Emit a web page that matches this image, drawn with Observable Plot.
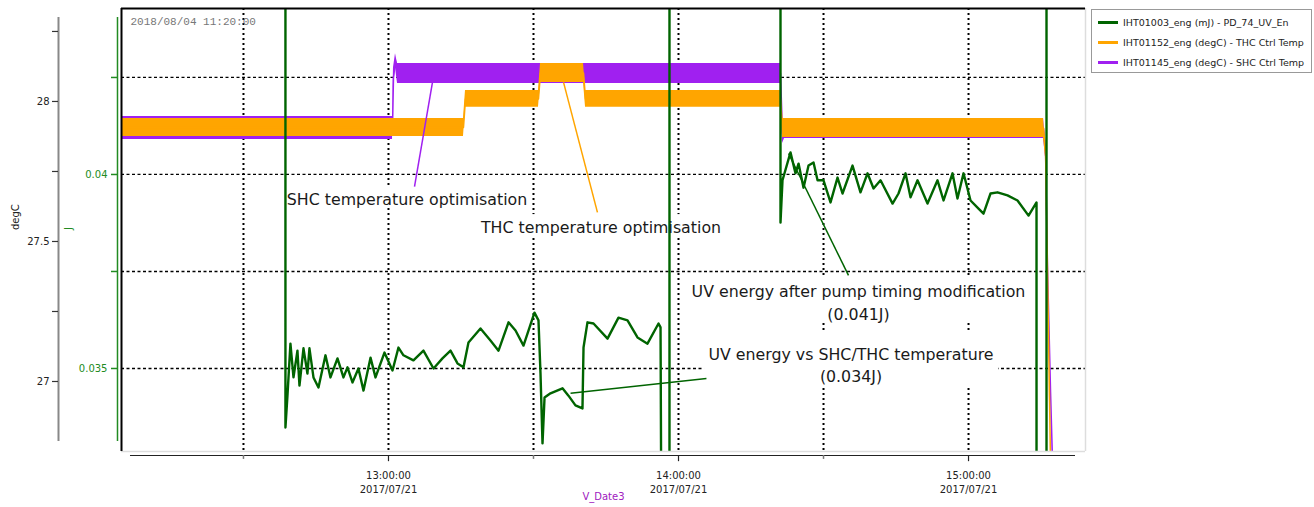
<!DOCTYPE html>
<html><head><meta charset="utf-8">
<script src="https://cdn.jsdelivr.net/npm/d3@7"></script>
<script src="https://cdn.jsdelivr.net/npm/@observablehq/plot@0.6"></script>
<style>
body{margin:0;background:#fff;font-family:"DejaVu Sans",sans-serif}
#wrap{position:relative;width:1314px;height:507px}
#legend{position:absolute;left:1091px;top:9px;width:221px;height:64px;border:1px solid #999;box-sizing:border-box;font-size:9.5px;color:#222;background:#fff}
.row{position:absolute;left:6px;display:flex;align-items:center;white-space:nowrap}
.sw{width:20px;height:3px;margin-right:5px}
</style></head><body><div id="wrap"><div id="legend"></div></div>
<script>
// ---------- data ----------
const seriesNames = ["IHT01003_eng (mJ) - PD_74_UV_En", "IHT01152_eng (degC) - THC Ctrl Temp", "IHT01145_eng (degC) - SHC Ctrl Temp"];
const seriesColors = ["#006400", "#FFA500", "#A020F0"];

// UV energy (J), left inner axis
const uvTime = ["12:38:41","12:38:41","12:39:06","12:39:43","12:40:21","12:41:10","12:41:35","12:42:25","12:43:14","12:43:39","12:44:29","12:45:31","12:46:58","12:48:00","12:49:27","12:50:41","12:51:31","12:52:33","12:53:47","12:54:50","12:56:17","12:57:19","12:59:10","13:00:50","13:02:04","13:03:06","13:05:10","13:07:14","13:09:19","13:11:10","13:12:50","13:14:17","13:15:31","13:16:33","13:19:02","13:21:06","13:22:46","13:24:50","13:26:17","13:27:56","13:30:12","13:31:02","13:31:27","13:31:52","13:32:17","13:33:31","13:36:00","13:37:14","13:38:41","13:40:08","13:40:21","13:41:10","13:42:25","13:45:19","13:47:35","13:49:27","13:51:31","13:53:35","13:55:52","13:56:17","13:56:29","13:58:08","13:58:08","14:21:06","14:21:06","14:21:31","14:23:10","14:24:12","14:24:50","14:25:52","14:26:54","14:27:56","14:28:46","14:30:00","14:31:27","14:32:54","14:33:56","14:36:00","14:37:39","14:39:06","14:40:21","14:41:48","14:44:17","14:45:31","14:46:58","14:48:00","14:49:27","14:51:31","14:53:35","14:54:50","14:56:41","14:57:43","14:58:58","15:00:25","15:02:04","15:03:06","15:04:33","15:06:00","15:08:04","15:10:08","15:12:25","15:14:04","15:14:04","15:16:08","15:16:08"];
const uvJ = [0.050,0.03348,0.03430,0.03564,0.03477,0.03546,0.03456,0.03552,0.03487,0.03552,0.03477,0.03451,0.03534,0.03477,0.03526,0.03477,0.03503,0.03464,0.03500,0.03443,0.03528,0.03477,0.03541,0.03495,0.03554,0.03534,0.03521,0.03546,0.03500,0.03526,0.03546,0.03513,0.03503,0.03567,0.03603,0.03572,0.03546,0.03619,0.03598,0.03559,0.03644,0.03624,0.03487,0.03307,0.03425,0.03436,0.03449,0.03430,0.03405,0.03397,0.03554,0.03619,0.03616,0.03577,0.03631,0.03624,0.03580,0.03564,0.03616,0.03606,0.030,0.030,0.050,0.050,0.03876,0.03985,0.04057,0.04003,0.04028,0.03966,0.04023,0.04031,0.03985,0.03985,0.03928,0.03992,0.03951,0.04023,0.03954,0.04003,0.03964,0.03985,0.03925,0.03951,0.04003,0.03941,0.03985,0.03925,0.03985,0.03933,0.04003,0.03938,0.04003,0.03933,0.03912,0.03899,0.03951,0.03954,0.03946,0.03933,0.03894,0.03928,0.030,0.030,0.050];

// THC control temperature (degC): band low / high
const thcTime = ["12:04:46","13:15:31","13:15:56","13:31:02","13:31:27","13:40:21","13:40:46","14:21:06","14:21:31","15:15:31","15:15:56","15:16:20","15:16:58"];
const thcLow  = [27.875,27.875,27.979,27.979,28.068,28.068,27.979,27.979,27.871,27.871,27.80,27.38,26.70];
const thcHigh = [27.939,27.939,28.039,28.039,28.136,28.136,28.039,28.039,27.939,27.939,27.84,27.41,26.72];

// SHC control temperature (degC): band low / high
const shcTime = ["12:04:46","13:00:50","13:01:02","13:01:27","13:01:52","14:21:06","14:21:31","14:21:56","15:15:31","15:15:56","15:16:20","15:16:58","15:17:23"];
const shcLow  = [27.864,27.864,28.05,28.12,28.064,28.064,27.85,27.868,27.868,27.80,27.40,26.95,26.70];
const shcHigh = [27.946,27.946,28.12,28.17,28.136,28.136,27.92,27.939,27.939,27.85,27.43,26.98,26.72];

// axes
const xStart = "12:04:46", xEnd = "15:24:12";
const hourTicks = ["13:00:00","14:00:00","15:00:00"];
const halfTicks = ["12:30:00","13:30:00","14:30:00"];
const gridTimes = ["12:30:00","13:00:00","13:30:00","14:00:00","14:30:00","15:00:00"];
const degTicks = [27, 27.25, 27.5, 27.75, 28, 28.25];
const degLabels = ["27", "", "27.5", "", "28", ""];
const jTicks = [0.035, 0.0375, 0.04, 0.0425];
const jLabels = ["0.035", "", "0.04", ""];
const yDomain = [26.75, 28.332];
const stamp = "2018/08/04 11:20:00";

// annotations
const noteText = ["SHC temperature optimisation", "THC temperature optimisation", "UV energy after pump timing modification\n(0.041J)", "UV energy vs SHC/THC temperature\n(0.034J)"];
const noteTime = ["13:03:50", "13:43:58", "14:37:14", "14:35:41"];
const noteVal = [27.657, 27.554, 27.286, 27.064];
const boxT1 = ["12:38:29", "13:18:37", "14:02:04", "14:05:23"];
const boxT2 = ["13:29:10", "14:09:19", "15:12:25", "15:06:12"];
const boxV1 = [27.618, 27.514, 27.211, 26.982];
const boxV2 = [27.693, 27.596, 27.371, 27.175];
const linkT1 = ["13:09:06", "13:36:13", "14:22:46", "13:37:40"];
const linkV1 = [28.068, 28.068, "J0.04054", "J0.03436"];
const linkT2 = ["13:05:23", "13:43:14", "14:35:10", "14:05:47"];
const linkV2 = [27.696, 27.604, "J0.03740", "J0.03474"];
const linkColor = ["#A020F0", "#FFA500", "#006400", "#006400"];

// ---------- helpers ----------
const T = s => { const [h, m, sec] = s.split(":").map(Number); return new Date(2017, 6, 21, h, m, sec); };
const jToDeg = j => 27.73929 + (j - 0.04) * 138.571;
const V = v => typeof v === "string" ? jToDeg(+v.slice(1)) : v;
// time at a horizontal pixel offset from the frame's left edge (for axis furniture outside the frame)
const t0 = T(xStart), t1 = T(xEnd);
const tOff = px => new Date(+t0 + px / 964 * (t1 - t0));

const uv = uvTime.map((t, i) => ({t: T(t), v: jToDeg(uvJ[i])}));
const thc = thcTime.map((t, i) => ({t: T(t), lo: thcLow[i], hi: thcHigh[i]}));
const shc = shcTime.map((t, i) => ({t: T(t), lo: shcLow[i], hi: shcHigh[i]}));
const notes = noteText.map((s, i) => ({s, t: T(noteTime[i]), v: noteVal[i]}));
const boxes = boxT1.map((t, i) => ({t1: T(t), t2: T(boxT2[i]), v1: boxV1[i], v2: boxV2[i]}));
const links = linkT1.map((t, i) => ({t1: T(t), t2: T(linkT2[i]), v1: V(linkV1[i]), v2: V(linkV2[i]), c: linkColor[i]}));
const degRows = degTicks.map((d, i) => ({d, s: degLabels[i]}));
const jRows = jTicks.map((j, i) => ({d: jToDeg(j), s: jLabels[i]}));
const fTime = d3.timeFormat("%H:%M:%S"), fDate = d3.timeFormat("%Y/%m/%d");
const axisLineY = 26.7357;

const chart = Plot.plot({
  width: 1314, height: 507,
  marginLeft: 121, marginRight: 229, marginTop: 8, marginBottom: 56,
  style: {fontFamily: "'DejaVu Sans', sans-serif", fontSize: "9.5px", background: "#fff", overflow: "visible"},
  x: {type: "time", domain: [t0, t1], axis: null},
  y: {domain: yDomain, axis: null},
  marks: [
    Plot.ruleX(gridTimes.map(T), {stroke: "#000", strokeWidth: 2, strokeDasharray: "2,3"}),
    Plot.ruleY(jRows, {y: "d", stroke: "#000", strokeWidth: 1.3, strokeDasharray: "3,2.5"}),
    Plot.rect(boxes, {x1: "t1", x2: "t2", y1: "v1", y2: "v2", fill: "#fff"}),
    Plot.areaY(shc, {x: "t", y1: "lo", y2: "hi", fill: seriesColors[2], clip: true}),
    Plot.line(shc, {x: "t", y: d => (d.lo + d.hi) / 2, stroke: seriesColors[2], strokeWidth: 1.5, clip: true}),
    Plot.areaY(thc, {x: "t", y1: "lo", y2: "hi", fill: seriesColors[1], clip: true}),
    Plot.line(thc, {x: "t", y: d => (d.lo + d.hi) / 2, stroke: seriesColors[1], strokeWidth: 1.5, clip: true}),
    Plot.line(uv, {x: "t", y: "v", stroke: seriesColors[0], strokeWidth: 2.4, clip: true}),
    Plot.link(links, {x1: "t1", y1: "v1", x2: "t2", y2: "v2", stroke: "c", strokeWidth: 1.5}),
    Plot.text(notes, {x: "t", y: "v", text: "s", fontSize: 15.8, fill: "#1a1a1a", lineHeight: 1.4, textAnchor: "middle"}),
    // frame
    Plot.ruleX([t1], {stroke: "#ddd", strokeWidth: 1.5}),
    Plot.ruleY([yDomain[0]], {stroke: "#ddd", strokeWidth: 1.5}),
    Plot.ruleY([yDomain[1]], {stroke: "#000", strokeWidth: 2}),
    Plot.ruleX([t0], {stroke: "#000", strokeWidth: 2}),
    // x axis
    Plot.ruleY([axisLineY], {x1: tOff(9), x2: tOff(954), stroke: "#222", strokeWidth: 1}),
    Plot.ruleX(halfTicks.map(T), {y1: axisLineY, y2: axisLineY - 0.014, stroke: "#777", strokeWidth: 1.5}),
    Plot.ruleX(hourTicks.map(T), {y1: axisLineY, y2: axisLineY - 0.022, stroke: "#222", strokeWidth: 1.2}),
    Plot.text(hourTicks.map(T), {x: d => d, y: axisLineY, dy: 13, text: d => fTime(d) + "\n" + fDate(d), lineAnchor: "top", lineHeight: 1.45, fill: "#222", fontSize: 10}),
    Plot.text(["V_Date3"], {frameAnchor: "bottom", dy: 48, fill: "#a020c0", fontSize: 10}),
    // degC axis
    Plot.ruleX([tOff(-63)], {y1: 26.786, y2: 28.3, stroke: "#888", strokeWidth: 2}),
    Plot.ruleY(degRows, {y: "d", x1: tOff(-69), x2: tOff(-63), stroke: "#333", strokeWidth: 1.2}),
    Plot.text(degRows, {y: "d", x: tOff(-72), text: "s", textAnchor: "end", fill: "#222", fontSize: 10}),
    Plot.text(["degC"], {frameAnchor: "left", dx: -106, rotate: -90, fill: "#222", fontSize: 10}),
    // J axis
    Plot.ruleX([tOff(-4)], {y1: 26.786, y2: 28.3, stroke: "#228b22", strokeWidth: 1.5}),
    Plot.ruleY(jRows, {y: "d", x1: tOff(-10), x2: tOff(-4), stroke: "#228b22", strokeWidth: 1.5}),
    Plot.text(jRows, {y: "d", x: tOff(-14), text: "s", textAnchor: "end", fill: "#228b22", fontSize: 10}),
    Plot.text(["J"], {frameAnchor: "left", dx: -53, rotate: -90, fill: "#228b22", fontSize: 10}),
    // timestamp
    Plot.text([stamp], {frameAnchor: "top-left", dx: 9, dy: 9, textAnchor: "start", fill: "#777", fontFamily: "'Liberation Mono', 'DejaVu Sans Mono', monospace", fontSize: 11})
  ]
});
const wrap = document.getElementById("wrap");
wrap.insertBefore(chart, wrap.firstChild);

const legend = document.getElementById("legend");
seriesNames.forEach((n, i) => {
  const r = document.createElement("div");
  r.className = "row";
  r.style.top = (7 + i * 20) + "px";
  r.innerHTML = `<div class="sw" style="background:${seriesColors[i]}"></div><span>${n}</span>`;
  legend.appendChild(r);
});
</script></body></html>
